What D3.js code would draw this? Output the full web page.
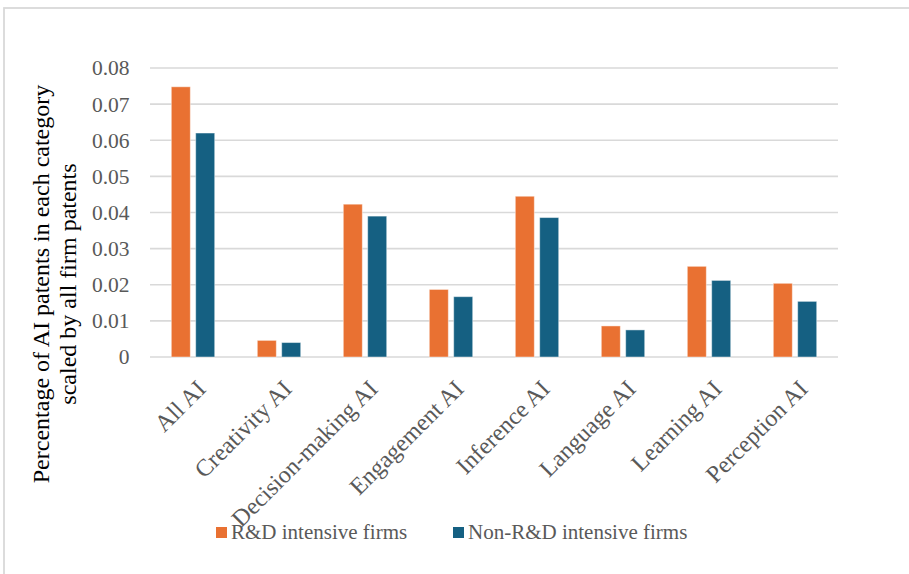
<!DOCTYPE html>
<html>
<head>
<meta charset="utf-8">
<script src="https://cdn.jsdelivr.net/npm/d3@7"></script>
<style>
  html, body { margin: 0; padding: 0; background: #fff; }
  svg { display: block; }
</style>
</head>
<body>
<svg id="chart" width="909" height="574"></svg>
<script>
// AI patent categories and the share of each, for the two firm groups
const categories = ["All AI", "Creativity AI", "Decision-making AI", "Engagement AI",
                    "Inference AI", "Language AI", "Learning AI", "Perception AI"];
const seriesNames = ["R&D intensive firms", "Non-R&D intensive firms"];
const rdIntensive    = [0.0748, 0.0046, 0.0423, 0.0187, 0.0445, 0.0086, 0.0251, 0.0204];
const nonRdIntensive = [0.0620, 0.0040, 0.0390, 0.0167, 0.0386, 0.0075, 0.0212, 0.0154];
const yTicks = [0, 0.01, 0.02, 0.03, 0.04, 0.05, 0.06, 0.07, 0.08];
const yTickLabels = ["0", "0.01", "0.02", "0.03", "0.04", "0.05", "0.06", "0.07", "0.08"];
const yTitleLines = ["Percentage of AI patents in each category", "scaled by all firm patents"];
const seriesColors = ["#E97132", "#156082"];

const values = [rdIntensive, nonRdIntensive];
const rows = categories.map((c, i) => ({
  category: c,
  bars: seriesNames.map((s, j) => ({ series: s, value: values[j][i], color: seriesColors[j] }))
}));

const FONT = "'Liberation Serif', 'Times New Roman', 'DejaVu Serif', serif";
const svg = d3.select("#chart").attr("font-family", FONT);
const textGray = "#595959";

// outer chart frame
svg.append("rect")
  .attr("x", 4).attr("y", 8)
  .attr("width", 1200).attr("height", 1200)
  .attr("fill", "#fff")
  .attr("stroke", "#d9d9d9").attr("stroke-width", 1.8);

const plot = { left: 150, right: 838, top: 68, bottom: 357 };

const x = d3.scaleBand().domain(categories).range([plot.left, plot.right]).padding(0);
const xs = d3.scaleBand().domain(seriesNames).range([-21.7, 21.7]).paddingInner(0.22);
const y = d3.scaleLinear().domain([0, 0.08]).range([plot.bottom, plot.top]);

// horizontal gridlines
svg.append("g").selectAll("line").data(yTicks).join("line")
  .attr("x1", plot.left).attr("x2", plot.right)
  .attr("y1", d => y(d)).attr("y2", d => y(d))
  .attr("stroke", "#d9d9d9").attr("stroke-width", 1.6);

// y axis labels
const yAxis = d3.axisLeft(y)
  .tickValues(yTicks)
  .tickFormat((d, i) => yTickLabels[i])
  .tickSize(0).tickPadding(20.5);
const gy = svg.append("g").attr("transform", `translate(${plot.left},0)`).call(yAxis)
  .attr("font-family", FONT);
gy.select(".domain").remove();
gy.selectAll("text")
  .attr("fill", textGray)
  .style("font-family", FONT)
  .style("font-size", "21.5px");

// bars
const groups = svg.append("g").selectAll("g").data(rows).join("g")
  .attr("transform", d => `translate(${x(d.category) + x.bandwidth() / 2},0)`);
groups.selectAll("rect").data(d => d.bars).join("rect")
  .attr("x", d => xs(d.series))
  .attr("width", xs.bandwidth())
  .attr("y", d => y(d.value))
  .attr("height", d => y(0) - y(d.value))
  .attr("fill", d => d.color)
  .attr("stroke", "#ffffff").attr("stroke-opacity", 0.45).attr("stroke-width", 1);

// category labels, rotated
const xAxis = d3.axisBottom(x).tickSize(0).tickPadding(0);
const gx = svg.append("g").attr("transform", `translate(0,${plot.bottom})`).call(xAxis)
  .attr("font-family", FONT);
gx.select(".domain").remove();
gx.selectAll(".tick text")
  .attr("fill", textGray)
  .style("font-family", FONT)
  .style("font-size", "24px")
  .attr("text-anchor", "end")
  .attr("dy", "0.35em")
  .attr("transform", "translate(8.3,27.3) rotate(-45)")
  .attr("y", 0);

// y axis title
const yTitle = svg.append("text")
  .attr("transform", "translate(0,284) rotate(-90)")
  .attr("text-anchor", "middle")
  .attr("fill", "#000")
  .style("font-family", FONT)
  .style("font-size", "24px");
yTitle.selectAll("tspan").data(yTitleLines).join("tspan")
  .attr("x", 0)
  .attr("y", (d, i) => i === 0 ? 49 : 76)
  .text(d => d);

// legend
const legendX = [216, 453];
const legend = svg.append("g").selectAll("g").data(seriesNames).join("g")
  .attr("transform", (d, i) => `translate(${legendX[i]},527)`);
legend.append("rect")
  .attr("width", 11).attr("height", 11)
  .attr("fill", (d, i) => seriesColors[i]);
legend.append("text")
  .attr("x", 15).attr("y", 12)
  .attr("fill", textGray)
  .style("font-family", FONT)
  .style("font-size", "21px")
  .text(d => d);
</script>
</body>
</html>
